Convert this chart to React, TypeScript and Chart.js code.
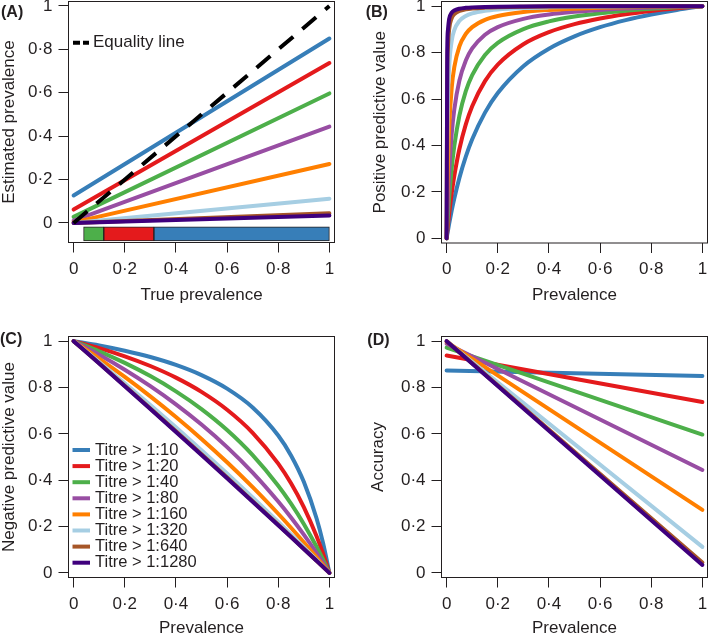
import React, { useEffect, useRef } from 'react';
import { Chart, registerables } from 'chart.js';

Chart.register(...registerables);

const PAGE_W = 709;
const PAGE_H = 637;
const FONT = '"Liberation Sans", Arial, Helvetica, sans-serif';
const TEXT = '#231f20';

// ---------- shared labels ----------
const titreLabels = [
  'Titre > 1:10',
  'Titre > 1:20',
  'Titre > 1:40',
  'Titre > 1:80',
  'Titre > 1:160',
  'Titre > 1:320',
  'Titre > 1:640',
  'Titre > 1:1280',
];
const titreColors = ['#377eb8', '#e41a1c', '#4daf4a', '#984ea3', '#ff7f00', '#a6cee3', '#a65628', '#3f007d'];
const tickValues = [0, 0.2, 0.4, 0.6, 0.8, 1];
const tickLabels = ['0', '0·2', '0·4', '0·6', '0·8', '1'];

// ---------- panel A: estimated vs true prevalence ----------
const estX = [0, 1];
const estBlue = [0.127, 0.85];
const estRed = [0.062, 0.737];
const estGreen = [0.028, 0.597];
const estPurple = [0.011, 0.444];
const estOrange = [0.003, 0.272];
const estLightBlue = [0.0004, 0.112];
const estBrown = [0.00005, 0.045];
const estDarkPurple = [0.00002, 0.034];
const equalityX = [0, 1];
const equalityY = [0, 1];
const bandStart = [0.039, 0.118, 0.314];
const bandEnd = [0.118, 0.314, 1.0];
const bandColors = ['#4daf4a', '#e41a1c', '#377eb8'];
const bandY = -0.05;

// ---------- panel B: positive predictive value ----------
const ppvX = [0, 0.0025, 0.005, 0.01, 0.02, 0.03, 0.05, 0.075, 0.1, 0.15, 0.2, 0.3, 0.4, 0.5, 0.6, 0.7, 0.8, 0.9, 1];
const ppvBlue = [0, 0.0165, 0.0325, 0.0633, 0.1202, 0.1715, 0.2605, 0.3518, 0.4265, 0.5415, 0.6259, 0.7415, 0.8169, 0.87, 0.9094, 0.9398, 0.964, 0.9837, 1];
const ppvRed = [0, 0.0289, 0.0564, 0.1072, 0.1952, 0.2688, 0.3849, 0.4908, 0.5691, 0.6772, 0.7482, 0.8359, 0.888, 0.9224, 0.9469, 0.9652, 0.9794, 0.9907, 1];
const ppvGreen = [0, 0.0507, 0.0968, 0.1772, 0.3032, 0.3974, 0.5288, 0.6336, 0.7032, 0.79, 0.842, 0.9014, 0.9343, 0.9552, 0.9697, 0.9803, 0.9884, 0.9948, 1];
const ppvPurple = [0, 0.0919, 0.1687, 0.2897, 0.4517, 0.5553, 0.68, 0.766, 0.8177, 0.8769, 0.9099, 0.9454, 0.9642, 0.9758, 0.9838, 0.9895, 0.9938, 0.9973, 1];
const ppvOrange = [0, 0.1852, 0.313, 0.478, 0.6492, 0.7371, 0.8267, 0.8803, 0.9097, 0.9412, 0.9577, 0.9749, 0.9837, 0.9891, 0.9927, 0.9953, 0.9973, 0.9988, 1];
const ppvLightBlue = [0, 0.4124, 0.5846, 0.7388, 0.8511, 0.8965, 0.9365, 0.9578, 0.9689, 0.9802, 0.9859, 0.9917, 0.9947, 0.9964, 0.9976, 0.9985, 0.9991, 0.9996, 1];
const ppvBrown = [0, 0.6929, 0.8189, 0.9009, 0.9484, 0.9653, 0.9793, 0.9865, 0.9901, 0.9937, 0.9956, 0.9974, 0.9983, 0.9989, 0.9993, 0.9995, 0.9997, 0.9999, 1];
const ppvDarkPurple = [0, 0.81, 0.8953, 0.945, 0.972, 0.9813, 0.989, 0.9928, 0.9947, 0.9967, 0.9977, 0.9986, 0.9991, 0.9994, 0.9996, 0.9997, 0.9999, 0.9999, 1];

// ---------- panel C: negative predictive value ----------
const npvX = [0, 0.1, 0.2, 0.3, 0.4, 0.5, 0.6, 0.7, 0.8, 0.85, 0.9, 0.95, 0.975, 1];
const npvBlue = [1, 0.9813, 0.9588, 0.9314, 0.8972, 0.8534, 0.7951, 0.7138, 0.5927, 0.5067, 0.3927, 0.2345, 0.1299, 0];
const npvRed = [1, 0.9698, 0.9345, 0.8927, 0.8425, 0.781, 0.7039, 0.6045, 0.4714, 0.3863, 0.2838, 0.158, 0.0838, 0];
const npvGreen = [1, 0.956, 0.9061, 0.8491, 0.7834, 0.7069, 0.6166, 0.5083, 0.3762, 0.2986, 0.2113, 0.1126, 0.0582, 0];
const npvPurple = [1, 0.9412, 0.8768, 0.8058, 0.7274, 0.6401, 0.5425, 0.4326, 0.3078, 0.2389, 0.165, 0.0856, 0.0436, 0];
const npvOrange = [1, 0.925, 0.8456, 0.7617, 0.6726, 0.578, 0.4773, 0.3699, 0.2551, 0.1946, 0.1321, 0.0672, 0.0339, 0];
const npvLightBlue = [1, 0.9102, 0.8183, 0.7243, 0.628, 0.5296, 0.4287, 0.3254, 0.2196, 0.1657, 0.1112, 0.0559, 0.0281, 0];
const npvBrown = [1, 0.9041, 0.8073, 0.7096, 0.611, 0.5115, 0.4111, 0.3097, 0.2075, 0.156, 0.1042, 0.0522, 0.0261, 0];
const npvDarkPurple = [1, 0.9031, 0.8055, 0.7072, 0.6083, 0.5086, 0.4083, 0.3073, 0.2056, 0.1545, 0.1032, 0.0517, 0.0259, 0];

// ---------- panel D: accuracy ----------
const accX = [0, 1];
const accBlue = [0.873, 0.85];
const accRed = [0.938, 0.737];
const accGreen = [0.972, 0.597];
const accPurple = [0.989, 0.444];
const accOrange = [0.997, 0.272];
const accLightBlue = [0.9996, 0.112];
const accBrown = [1.0, 0.045];
const accDarkPurple = [1.0, 0.034];

const estSeries = [estBlue, estRed, estGreen, estPurple, estOrange, estLightBlue, estBrown, estDarkPurple];
const ppvSeries = [ppvBlue, ppvRed, ppvGreen, ppvPurple, ppvOrange, ppvLightBlue, ppvBrown, ppvDarkPurple];
const npvSeries = [npvBlue, npvRed, npvGreen, npvPurple, npvOrange, npvLightBlue, npvBrown, npvDarkPurple];
const accSeries = [accBlue, accRed, accGreen, accPurple, accOrange, accLightBlue, accBrown, accDarkPurple];

type Box = { l: number; t: number; r: number; b: number };

interface PanelSpec {
  letter: string;
  letterX: number;
  letterY: number;
  panelLeft: number;
  box: Box;
  xAxisH: number;
  yMin: number;
  yMax: number;
  xTitle: string;
  yTitle: string;
  yTitlePad: number;
  datasets: any[];
  legend: 'equality' | 'titres' | null;
}

function lineSet(xs: number[], ys: number[], color: string, order: number, curve: boolean, extra: any = {}) {
  return {
    type: 'line',
    data: xs.map((x, i) => ({ x, y: ys[i] })),
    borderColor: color,
    backgroundColor: color,
    borderWidth: 4,
    pointRadius: 0,
    pointHoverRadius: 0,
    fill: false,
    tension: 0,
    cubicInterpolationMode: curve ? 'monotone' : 'default',
    borderCapStyle: 'round',
    borderJoinStyle: 'round',
    order,
    ...extra,
  };
}

function titreSets(xs: number[], series: number[][], curve: boolean) {
  return series.map((ys, i) => lineSet(xs, ys, titreColors[i], 10 - i, curve));
}

const tickFont = { family: FONT, size: 17, lineHeight: 1 };

function axisCommon() {
  return {
    type: 'linear',
    offset: false,
    afterBuildTicks: (s: any) => {
      s.ticks = tickValues.map((v) => ({ value: v }));
    },
    ticks: {
      autoSkip: false,
      maxRotation: 0,
      minRotation: 0,
      color: TEXT,
      font: tickFont,
      callback: (_v: any, i: number) => tickLabels[i],
    },
    grid: {
      display: true,
      drawOnChartArea: false,
      drawTicks: true,
      tickLength: 10,
      color: TEXT,
      lineWidth: 1,
      offset: false,
    },
    border: { display: false },
  };
}

function decorPlugin(p: PanelSpec) {
  return {
    id: 'decor' + p.letter,
    afterDatasetsDraw(chart: any) {
      const { ctx, chartArea: a } = chart;
      ctx.save();
      ctx.strokeStyle = TEXT;
      ctx.lineWidth = 1;
      ctx.strokeRect(a.left, a.top, a.right - a.left, a.bottom - a.top);
      ctx.restore();
    },
    afterDraw(chart: any) {
      const { ctx } = chart;
      ctx.save();
      ctx.fillStyle = TEXT;
      ctx.textBaseline = 'middle';
      ctx.textAlign = 'left';
      ctx.font = `bold 16px ${FONT}`;
      ctx.fillText(`(${p.letter})`, p.letterX, p.letterY);
      if (p.legend === 'equality') {
        const y = 42.7;
        ctx.strokeStyle = '#000';
        ctx.lineWidth = 4;
        ctx.setLineDash([7, 3]);
        ctx.beginPath();
        ctx.moveTo(73, y);
        ctx.lineTo(89, y);
        ctx.stroke();
        ctx.setLineDash([]);
        ctx.font = `17px ${FONT}`;
        ctx.fillText('Equality line', 93, y);
      } else if (p.legend === 'titres') {
        ctx.font = `16.5px ${FONT}`;
        titreLabels.forEach((lab, i) => {
          const y = 450 + i * 16.1;
          ctx.strokeStyle = titreColors[i];
          ctx.lineWidth = 4;
          ctx.beginPath();
          ctx.moveTo(72.5, y);
          ctx.lineTo(90, y);
          ctx.stroke();
          ctx.fillText(lab, 95, y);
        });
      }
      ctx.restore();
    },
  };
}

function makeConfig(p: PanelSpec): any {
  const xc = axisCommon();
  const yc = axisCommon();
  return {
    type: 'line',
    data: { datasets: p.datasets },
    options: {
      animation: false,
      responsive: false,
      devicePixelRatio: 1,
      events: [],
      layout: {
        autoPadding: false,
        padding: {
          left: p.panelLeft,
          top: p.box.t,
          right: PAGE_W - p.box.r,
          bottom: PAGE_H - p.box.b - p.xAxisH,
        },
      },
      plugins: {
        legend: { display: false },
        tooltip: { enabled: false },
        title: { display: false },
      },
      scales: {
        x: {
          ...xc,
          position: 'bottom',
          min: -0.02,
          max: 1.02,
          ticks: { ...xc.ticks, padding: 8 },
          afterFit: (s: any) => {
            s.height = p.xAxisH;
            s.paddingLeft = 0;
            s.paddingRight = 0;
            s.paddingTop = 0;
            s.paddingBottom = 0;
          },
          title: {
            display: true,
            text: p.xTitle,
            color: TEXT,
            font: { family: FONT, size: 17, lineHeight: 1 },
            padding: { top: 0, bottom: 0 },
          },
        },
        y: {
          ...yc,
          position: 'left',
          min: p.yMin,
          max: p.yMax,
          ticks: { ...yc.ticks, padding: 6 },
          afterFit: (s: any) => {
            s.width = p.box.l - p.panelLeft;
            s.paddingLeft = 0;
            s.paddingRight = 0;
            s.paddingTop = 0;
            s.paddingBottom = 0;
          },
          title: {
            display: true,
            text: p.yTitle,
            color: TEXT,
            font: { family: FONT, size: 17, lineHeight: 1 },
            padding: { top: p.yTitlePad, bottom: 0 },
          },
        },
      },
    },
    plugins: [decorPlugin(p)],
  };
}

const panelA: PanelSpec = {
  letter: 'A',
  letterX: 1,
  letterY: 13,
  panelLeft: 0,
  box: { l: 68.5, t: 1.5, r: 334.5, b: 242.5 },
  xAxisH: 61,
  yMin: -0.0899,
  yMax: 1.0207,
  xTitle: 'True prevalence',
  yTitle: 'Estimated prevalence',
  yTitlePad: 1,
  legend: 'equality',
  datasets: [
    {
      type: 'bar',
      indexAxis: 'y',
      data: bandStart.map((s, i) => ({ x: [s, bandEnd[i]], y: bandY })),
      backgroundColor: bandColors,
      borderColor: TEXT,
      borderWidth: 1,
      borderSkipped: false,
      barThickness: 14,
      categoryPercentage: 1,
      barPercentage: 1,
      order: 20,
    },
    ...titreSets(estX, estSeries, false),
    lineSet(equalityX, equalityY, '#000', 0, false, { borderDash: [18, 12], borderCapStyle: 'butt' }),
  ],
};

const panelB: PanelSpec = {
  letter: 'B',
  letterX: 365.7,
  letterY: 13,
  panelLeft: 354,
  box: { l: 441.5, t: 1.5, r: 707.5, b: 243 },
  xAxisH: 61,
  yMin: -0.02,
  yMax: 1.02,
  xTitle: 'Prevalence',
  yTitle: 'Positive predictive value',
  yTitlePad: 18,
  legend: null,
  datasets: titreSets(ppvX, ppvSeries, true),
};

const panelC: PanelSpec = {
  letter: 'C',
  letterX: 0,
  letterY: 339.7,
  panelLeft: 0,
  box: { l: 68.5, t: 336.5, r: 334.5, b: 577.5 },
  xAxisH: 59.5,
  yMin: -0.02,
  yMax: 1.02,
  xTitle: 'Prevalence',
  yTitle: 'Negative predictive value',
  yTitlePad: 1,
  legend: 'titres',
  datasets: titreSets(npvX, npvSeries, true),
};

const panelD: PanelSpec = {
  letter: 'D',
  letterX: 367.3,
  letterY: 340.7,
  panelLeft: 354,
  box: { l: 441.5, t: 336.5, r: 707.5, b: 577.5 },
  xAxisH: 59.5,
  yMin: -0.02,
  yMax: 1.02,
  xTitle: 'Prevalence',
  yTitle: 'Accuracy',
  yTitlePad: 16,
  legend: null,
  datasets: titreSets(accX, accSeries, false),
};

const panels = [panelA, panelB, panelC, panelD];

export default function App() {
  const refs = [useRef<HTMLCanvasElement>(null), useRef<HTMLCanvasElement>(null), useRef<HTMLCanvasElement>(null), useRef<HTMLCanvasElement>(null)];

  useEffect(() => {
    const charts: Chart[] = [];
    panels.forEach((p, i) => {
      const c = refs[i].current;
      if (c) charts.push(new Chart(c, makeConfig(p)));
    });
    return () => {
      charts.forEach((ch) => ch.destroy());
    };
  }, []);

  return (
    <div style={{ position: 'absolute', left: 0, top: 0, width: PAGE_W, height: PAGE_H, background: '#fff', overflow: 'hidden' }}>
      {panels.map((p, i) => (
        <canvas
          key={p.letter}
          ref={refs[i]}
          width={PAGE_W}
          height={PAGE_H}
          style={{ position: 'absolute', left: 0, top: 0, width: PAGE_W, height: PAGE_H }}
        />
      ))}
    </div>
  );
}
